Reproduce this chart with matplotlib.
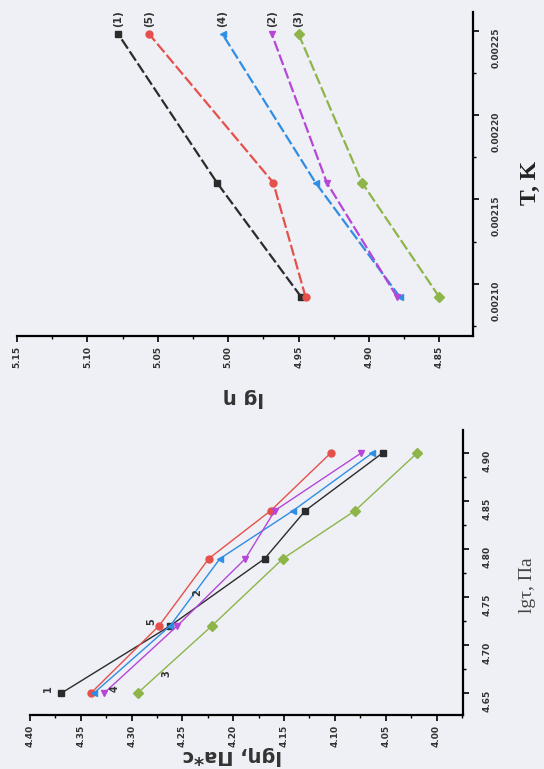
import matplotlib
matplotlib.use('Agg')
import matplotlib.pyplot as plt
from matplotlib.ticker import MultipleLocator, FormatStrFormatter

# lower chart: lg eta vs lg tau (drawn turned by 90 degrees, as in the scan)
lgtau = [4.65, 4.72, 4.79, 4.84, 4.90]
eta_1 = [4.369, 4.262, 4.169, 4.129, 4.053]
eta_5 = [4.340, 4.273, 4.224, 4.163, 4.104]
eta_2 = [4.337, 4.262, 4.213, 4.141, 4.063]
eta_4 = [4.327, 4.255, 4.188, 4.159, 4.074]
eta_3 = [4.294, 4.221, 4.151, 4.080, 4.019]

# upper chart: lg eta vs 1/T
inv_t = [0.002092, 0.002160, 0.002248]
t_1 = [4.948, 5.008, 5.078]
t_5 = [4.945, 4.968, 5.056]
t_4 = [4.878, 4.938, 5.004]
t_2 = [4.880, 4.930, 4.969]
t_3 = [4.850, 4.905, 4.950]

names = ['1', '5', '4', '2', '3']
colors = ['#2b2b2b', '#e6504a', '#2f8de4', '#b546d8', '#8db54a']
markers = ['s', 'o', '<', 'v', 'D']
bg = '#eef0f5'

fig = plt.figure(figsize=(5.44, 7.69), dpi=100, facecolor=bg)

def style(ax, ypad):
    ax.set_facecolor(bg)
    ax.spines['top'].set_visible(False)
    ax.spines['left'].set_visible(False)
    ax.spines['bottom'].set_linewidth(1.6)
    ax.spines['right'].set_linewidth(1.6)
    ax.yaxis.tick_right()
    ax.tick_params(which='major', direction='out', length=4, width=1.2, labelsize=6.5, pad=3)
    ax.tick_params(which='minor', direction='out', length=2, width=1)
    ax.tick_params(axis='y', which='major', pad=ypad)
    ax.tick_params(axis='y', left=False, which='both')
    ax.tick_params(axis='x', top=False, which='both')
    for lab in ax.get_xticklabels() + ax.get_yticklabels():
        lab.set_rotation(90)
        lab.set_fontweight('bold')
        lab.set_color('#333333')

# ---- lower chart
ax1 = fig.add_axes([0.055, 0.070, 0.796, 0.371])
lower = [eta_1, eta_5, eta_2, eta_4, eta_3]
for vals, c, m in zip(lower, colors, markers):
    ax1.plot(vals, lgtau, color=c, marker=m, ms=5, lw=1.0)
ax1.set_xticks([4.40, 4.35, 4.30, 4.25, 4.20, 4.15, 4.10, 4.05, 4.00])
ax1.set_yticks([4.65, 4.70, 4.75, 4.80, 4.85, 4.90])
ax1.xaxis.set_minor_locator(MultipleLocator(0.025))
ax1.yaxis.set_minor_locator(MultipleLocator(0.025))
ax1.xaxis.set_major_formatter(FormatStrFormatter('%.2f'))
ax1.yaxis.set_major_formatter(FormatStrFormatter('%.2f'))
ax1.set_xlim(4.40, 3.974)
ax1.set_ylim(4.627, 4.924)
style(ax1, 10)

# small curve numbers near the lines
for s, (x, y) in zip(['1', '4', '3', '5', '2'],
                     [(4.382, 4.655), (4.317, 4.655), (4.266, 4.670),
                      (4.281, 4.724), (4.235, 4.755)]):
    ax1.text(x, y, s, rotation=90, fontsize=7, fontweight='bold', color='#333333',
             ha='center', va='center')

# ---- upper chart
ax2 = fig.add_axes([0.031, 0.563, 0.839, 0.421])
upper = [t_1, t_5, t_4, t_2, t_3]
for vals, c, m, n in zip(upper, colors, markers, names):
    ax2.plot(vals, inv_t, color=c, marker=m, ms=5, lw=1.6, dashes=(5, 1.5))
    ax2.text(vals[-1], inv_t[-1] + 0.0000095, '(' + n + ')', rotation=90, fontsize=7.5,
             fontweight='bold', color='#333333', ha='center', va='center')
ax2.set_xticks([5.15, 5.10, 5.05, 5.00, 4.95, 4.90, 4.85])
ax2.set_yticks([0.00210, 0.00215, 0.00220, 0.00225])
ax2.xaxis.set_minor_locator(MultipleLocator(0.025))
ax2.yaxis.set_minor_locator(MultipleLocator(0.000025))
ax2.xaxis.set_major_formatter(FormatStrFormatter('%.2f'))
ax2.yaxis.set_major_formatter(FormatStrFormatter('%.5f'))
ax2.set_xlim(5.15, 4.826)
ax2.set_ylim(0.002069, 0.002261)
style(ax2, 9)

# axis titles, turned like the scan
fig.text(530 / 544, 1 - 183 / 769, 'T, K', rotation=90, fontsize=17, fontweight='bold',
         family='Liberation Serif', ha='center', va='center', color='#222222')
fig.text(527 / 544, 1 - 585 / 769, 'lgτ, Па', rotation=90, fontsize=14,
         family='Liberation Serif', ha='center', va='center', color='#444444')
fig.text(232 / 544, 1 - 755 / 769, 'lgη, Па*с', rotation=180, fontsize=14, fontweight='bold',
         ha='center', va='center', color='#333333')
fig.text(243 / 544, 1 - 398 / 769, 'lg η', rotation=180, fontsize=14, fontweight='bold',
         ha='center', va='center', color='#333333')

fig.savefig('out.png', dpi=100, facecolor=bg)
